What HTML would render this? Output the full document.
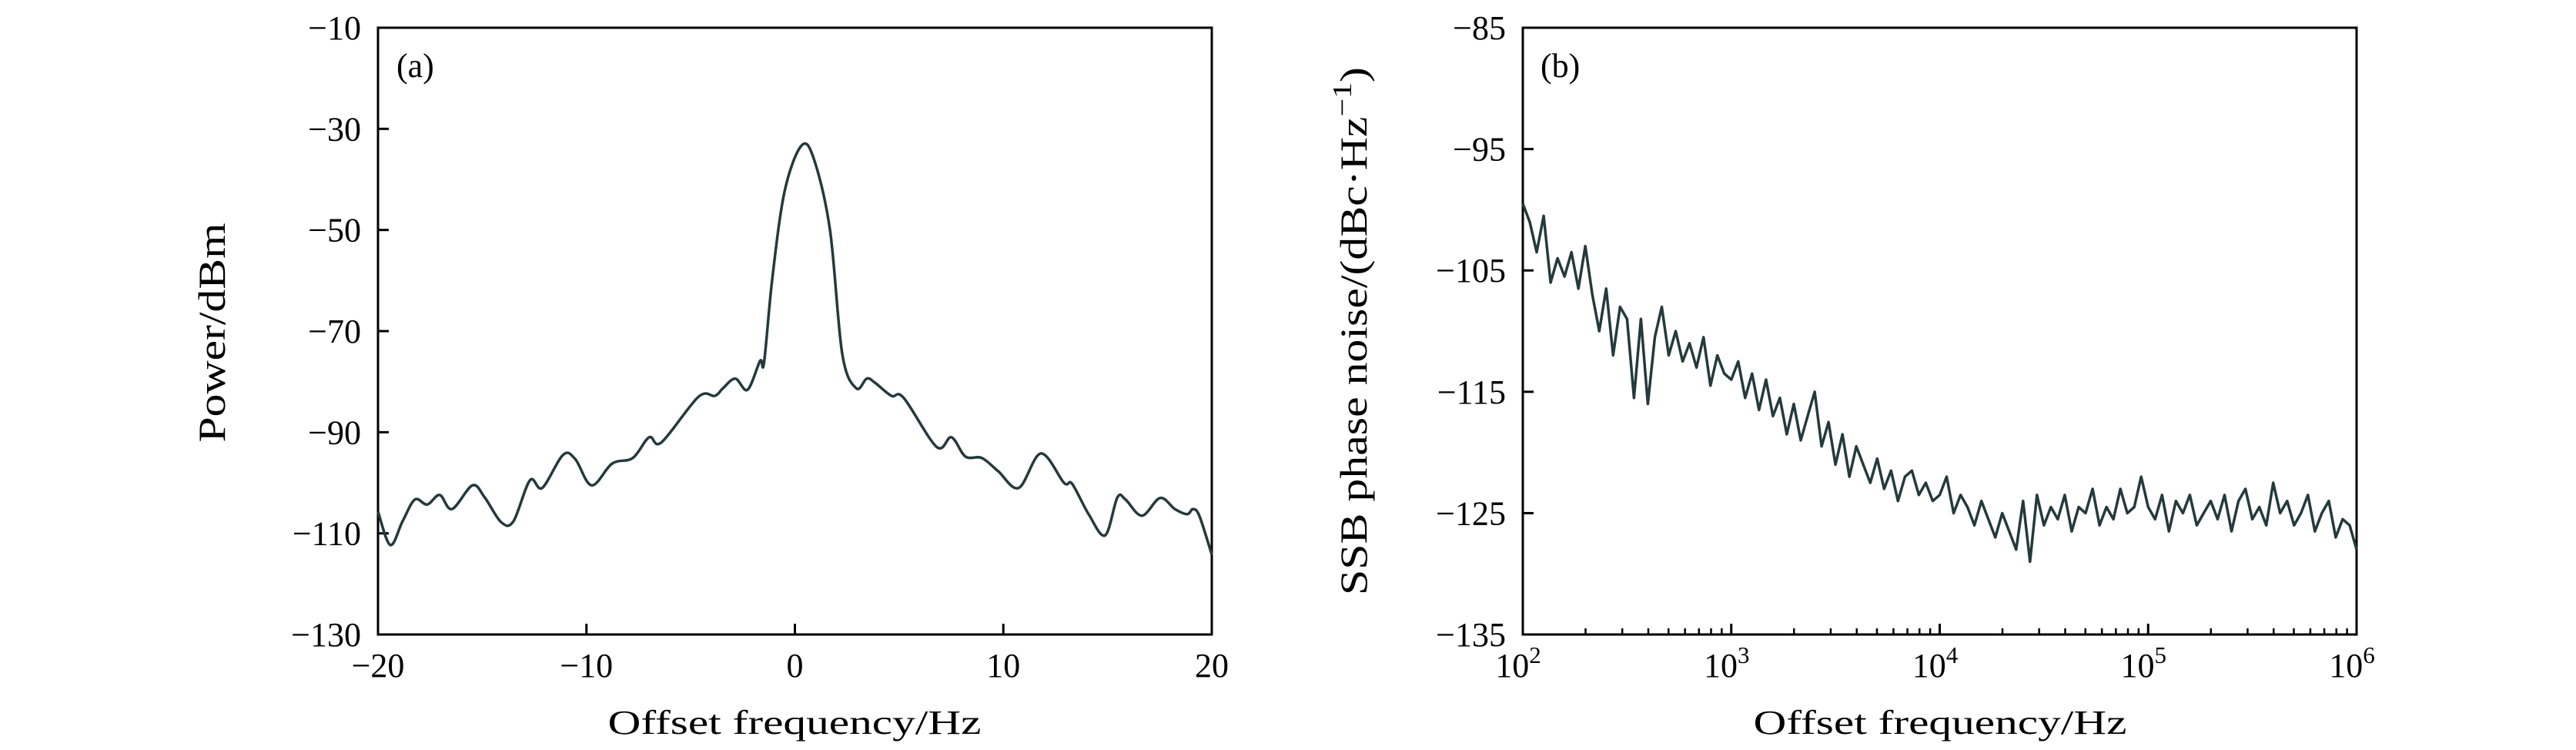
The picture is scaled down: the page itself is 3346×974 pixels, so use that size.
<!DOCTYPE html>
<html><head><meta charset="utf-8"><style>
html,body{margin:0;padding:0;background:#fff;}
svg{display:block;font-family:"Liberation Serif",serif;}
</style></head><body>
<svg id="fig" width="3346" height="974" viewBox="0 0 3346 974" xmlns="http://www.w3.org/2000/svg"></svg>
<script>
// Panel (a) data
const specFreq = [-20,-19.41,-18.82,-18.23,-17.64,-17.04,-16.45,-15.47,-14.88,-14.09,-13.50,-12.71,-12.12,-11.13,-10.54,-9.75,-8.77,-7.78,-6.99,-6.40,-4.63,-3.84,-3.45,-2.86,-2.27,-1.67,-1.48,-1.08,-0.49,0.30,0.89,1.68,2.27,2.94,3.45,3.84,4.63,5.22,6.80,7.51,8.18,8.97,9.75,10.74,11.80,12.91,13.30,14.09,14.88,15.47,15.86,16.65,17.52,18.23,18.82,19.10,19.41,20];
const specPower = [-105.7,-112.3,-107.6,-103.3,-104.3,-102.4,-105.2,-100.5,-102.9,-107.8,-107.6,-99.5,-101,-94.5,-95.3,-100.5,-96.2,-95.1,-91,-92,-83,-82.8,-81.3,-79.4,-81.6,-75.9,-76.2,-59.4,-42.3,-33.4,-35.7,-49.9,-74.5,-81.3,-79.4,-80.2,-82.8,-83.2,-92.9,-91,-94.8,-95.1,-97.7,-101,-94.2,-100,-100.2,-106.2,-110.4,-102.9,-103.3,-106.5,-103,-105.2,-106.2,-105.2,-106.6,-114.2];
const aXTicks = [-20,-10,0,10,20];
const aXTickLabels = ["\u221220","\u221210","0","10","20"];
const aYTicks = [-130,-110,-90,-70,-50,-30,-10];
const aYTickLabels = ["\u2212130","\u2212110","\u221290","\u221270","\u221250","\u221230","\u221210"];
// Panel (b) data: values at uniform 1/30-decade spacing from 10^2 to 10^6
const noiseStartExp = 2;
const noiseStepExp = 1/30;
const noiseValues = [-99.5,-101,-103.5,-100.5,-106,-104,-105.5,-103.5,-106.5,-103,-107,-110,-106.5,-112,-108,-109,-115.5,-109,-116,-110.5,-108,-112,-110,-112.5,-111,-113,-110.5,-114.5,-112,-113.5,
-114,-112.5,-115.5,-113.5,-116.5,-114,-117,-115.5,-118.5,-116,-119,-117,-115,-119.5,-117.5,-121,-118.5,-122,-119.5,-121,-122.5,-120.5,-123,-121.5,-124,-122,-121.5,-123.5,-122.5,-124,
-123.5,-122,-125,-123.5,-124.5,-126,-124,-125.5,-127,-125,-126.5,-128,-124,-129,-123.5,-126,-124.5,-125.5,-123.5,-126.5,-124.5,-125,-123,-126,-124.5,-125.5,-123,-125,-124.5,-122,
-124.5,-125.5,-123.5,-126.5,-124,-125,-123.5,-126,-125,-124,-125.5,-123.5,-126.5,-124,-123,-125.5,-124.5,-126,-122.5,-125,-124,-126,-125,-123.5,-126.5,-125,-124,-127,-125.5,-126,-128];
const bXTickExps = [2,3,4,5,6];
const bYTicks = [-135,-125,-115,-105,-95,-85];
const bYTickLabels = ["\u2212135","\u2212125","\u2212115","\u2212105","\u221295","\u221285"];

const NS="http://www.w3.org/2000/svg";
const svg=document.getElementById('fig');
function mk(tag,attrs,parent){const e=document.createElementNS(NS,tag);for(const k in attrs)e.setAttribute(k,attrs[k]);(parent||svg).appendChild(e);return e;}
const TOP=36,BOT=824;
const FS=44;

// ---------- Panel A ----------
const aL=491,aR=1574;
const ax=v=>aL+(v+20)/40*(aR-aL);
const ay=v=>TOP+(-10-v)/120*(BOT-TOP);
const gA=mk('g',{});


const frameA=mk('rect',{x:aL,y:TOP,width:aR-aL,height:BOT-TOP,fill:'none',stroke:'#000','stroke-width':3},gA);


aXTicks.forEach((t,i)=>{
  const x=ax(t);
  const tk=mk('line',{x1:x,x2:x,y1:BOT,y2:BOT-14,stroke:'#000','stroke-width':3},gA);
  
  
  const tl=mk('text',{x:x,y:879,'font-size':FS,'text-anchor':'middle'},gA);
  tl.textContent=aXTickLabels[i];
  
  
});
aYTicks.forEach((t,i)=>{
  const y=ay(t);
  const tk=mk('line',{x1:aL,x2:aL+14,y1:y,y2:y,stroke:'#000','stroke-width':3},gA);
  
  
  const tl=mk('text',{x:aL-22,y:y+15,'font-size':FS,'text-anchor':'end'},gA);
  tl.textContent=aYTickLabels[i];
  
  
});
function smoothPath(pts){
  let d='M'+pts[0][0].toFixed(1)+','+pts[0][1].toFixed(1);
  for(let i=0;i<pts.length-1;i++){
    const p0=pts[Math.max(i-1,0)],p1=pts[i],p2=pts[i+1],p3=pts[Math.min(i+2,pts.length-1)];
    const c1=[p1[0]+(p2[0]-p0[0])/6,p1[1]+(p2[1]-p0[1])/6];
    const c2=[p2[0]-(p3[0]-p1[0])/6,p2[1]-(p3[1]-p1[1])/6];
    d+=' C'+c1[0].toFixed(1)+','+c1[1].toFixed(1)+' '+c2[0].toFixed(1)+','+c2[1].toFixed(1)+' '+p2[0].toFixed(1)+','+p2[1].toFixed(1);
  }
  return d;
}
const aPts=specFreq.map((f,i)=>[ax(f),ay(specPower[i])]);
const lineA=mk('path',{d:smoothPath(aPts),fill:'none',stroke:'#243a3c','stroke-width':3.5,'stroke-linejoin':'round'},gA);


const labA=mk('text',{x:515,y:100,'font-size':FS},gA);
labA.textContent='(a)';


const xtA=mk('text',{x:1032,y:953,'font-size':FS,'text-anchor':'middle',textLength:485,lengthAdjust:'spacingAndGlyphs'},gA);
xtA.textContent='Offset frequency/Hz';


const ytA=mk('text',{x:0,y:0,'font-size':50,'text-anchor':'middle',textLength:285,lengthAdjust:'spacingAndGlyphs',transform:'translate(292,432) rotate(-90)'},gA);
ytA.textContent='Power/dBm';



// ---------- Panel B ----------
const bL=1978,bR=3061;
const bx=e=>bL+(e-2)/4*(bR-bL);
const by=v=>TOP+(-85-v)/50*(BOT-TOP);
const gB=mk('g',{});


const frameB=mk('rect',{x:bL,y:TOP,width:bR-bL,height:BOT-TOP,fill:'none',stroke:'#000','stroke-width':3},gB);


for(let e=2;e<6;e++){
  for(let m=2;m<=9;m++){
    const x=bx(e+Math.log10(m));
    const tk=mk('line',{x1:x,x2:x,y1:BOT,y2:BOT-8,stroke:'#000','stroke-width':2.5},gB);
    
    
  }
}
bXTickExps.forEach(e=>{
  const x=bx(e);
  const tk=mk('line',{x1:x,x2:x,y1:BOT,y2:BOT-14,stroke:'#000','stroke-width':3},gB);
  
  
  const tl=mk('text',{x:x-6,y:879,'font-size':FS,'text-anchor':'middle'},gB);
  
  
  const b=mk('tspan',{},tl);b.textContent='10';
  const s=mk('tspan',{dy:-18,'font-size':31},tl);s.textContent=String(e);
});
bYTicks.forEach((t,i)=>{
  const y=by(t);
  const tk=mk('line',{x1:bL,x2:bL+14,y1:y,y2:y,stroke:'#000','stroke-width':3},gB);
  
  
  const tl=mk('text',{x:bL-22,y:y+15,'font-size':FS,'text-anchor':'end'},gB);
  tl.textContent=bYTickLabels[i];
  
  
});
const bPts=noiseValues.map((v,i)=>bx(noiseStartExp+i*noiseStepExp).toFixed(1)+','+by(v).toFixed(1)).join(' ');
const lineB=mk('polyline',{points:bPts,fill:'none',stroke:'#243a3c','stroke-width':3.5,'stroke-linejoin':'round'},gB);


const labB=mk('text',{x:2001,y:100,'font-size':FS},gB);
labB.textContent='(b)';


const xtB=mk('text',{x:2520,y:953,'font-size':FS,'text-anchor':'middle',textLength:485,lengthAdjust:'spacingAndGlyphs'},gB);
xtB.textContent='Offset frequency/Hz';


const ytB=mk('text',{x:0,y:0,'font-size':50,'text-anchor':'middle',textLength:686,lengthAdjust:'spacingAndGlyphs',transform:'translate(1775,430) rotate(-90)'},gB);


const t1=mk('tspan',{},ytB);t1.textContent='SSB phase noise/(dBc\u00B7Hz';
const t2=mk('tspan',{dy:-20,'font-size':35},ytB);t2.textContent='\u22121';
const t3=mk('tspan',{dy:20},ytB);t3.textContent=')';
</script>
</body></html>
